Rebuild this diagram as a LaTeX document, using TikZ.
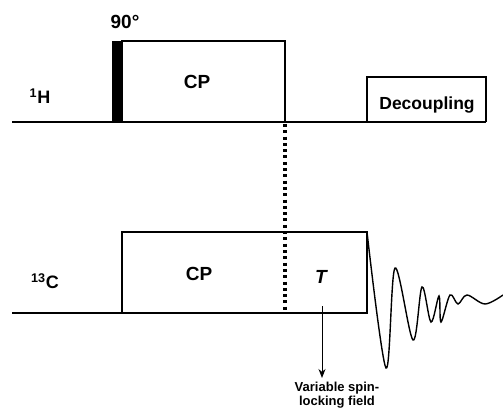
\documentclass[tikz,border=0pt]{standalone}
\usepackage{fontspec}
\setmainfont{Liberation Sans}
\usetikzlibrary{arrows.meta}

\begin{document}
\begin{tikzpicture}[x=1pt,y=-1pt,line width=1.2pt,
  lbl/.style={font=\bfseries\fontsize{18}{20}\selectfont},
  big/.style={font=\bfseries\fontsize{19}{21}\selectfont},
  small/.style={font=\bfseries\fontsize{13}{15}\selectfont, align=center}]
\useasboundingbox (0,0) rectangle (503,414);

% Draw the 1H channel
\draw (12,122) -- (486,122);
\fill (112,41) rectangle (122,122);
\draw (122,122) -- (122,41) -- (285,41) -- (285,122);
\draw (367,122) -- (367,77) -- (486,77) -- (486,122);
\node[big] (ninety) at (125,22) {90\textdegree};
\node[lbl] (hlabel) at (40,96) {\textsuperscript{1}H};
\node[big] (cph) at (197,82) {CP};
\node[font=\bfseries\fontsize{17.5}{19}\selectfont] (dec) at (427,105) {Decoupling};

% Draw the 13C channel
\draw (12,313) -- (122,313) -- (122,232) -- (367,232) -- (367,313) -- (122,313);
\node[lbl] (clabel) at (45,281) {\textsuperscript{13}C};
\node[big] (cpc) at (199,274) {CP};
\node[font=\bfseries\itshape\fontsize{19}{21}\selectfont] (tau) at (321,277) {T};

% Dotted line between the two channels
\draw[line width=3.5pt, dash pattern=on 3pt off 3.3pt] (285,124) -- (285,313);

% Draw the FID
\draw[line width=1.4pt] plot[smooth, tension=0.55] coordinates {
  (367,232) (386,368) (395,268) (413,340) (422,287) (431,322) (439,296)
  (441,322) (450,295) (458,304) (467,295) (485,304) (503,295)};

% Add annotations
\coordinate (arrowtop) at (322,306);
\node[small] (vsl) at (337,395) {Variable spin-\\[-1pt]locking field};
\draw[line width=1pt, -{Stealth[length=9pt,width=7pt]}] (arrowtop) -- (vsl.north -| arrowtop);
\end{tikzpicture}
\end{document}
